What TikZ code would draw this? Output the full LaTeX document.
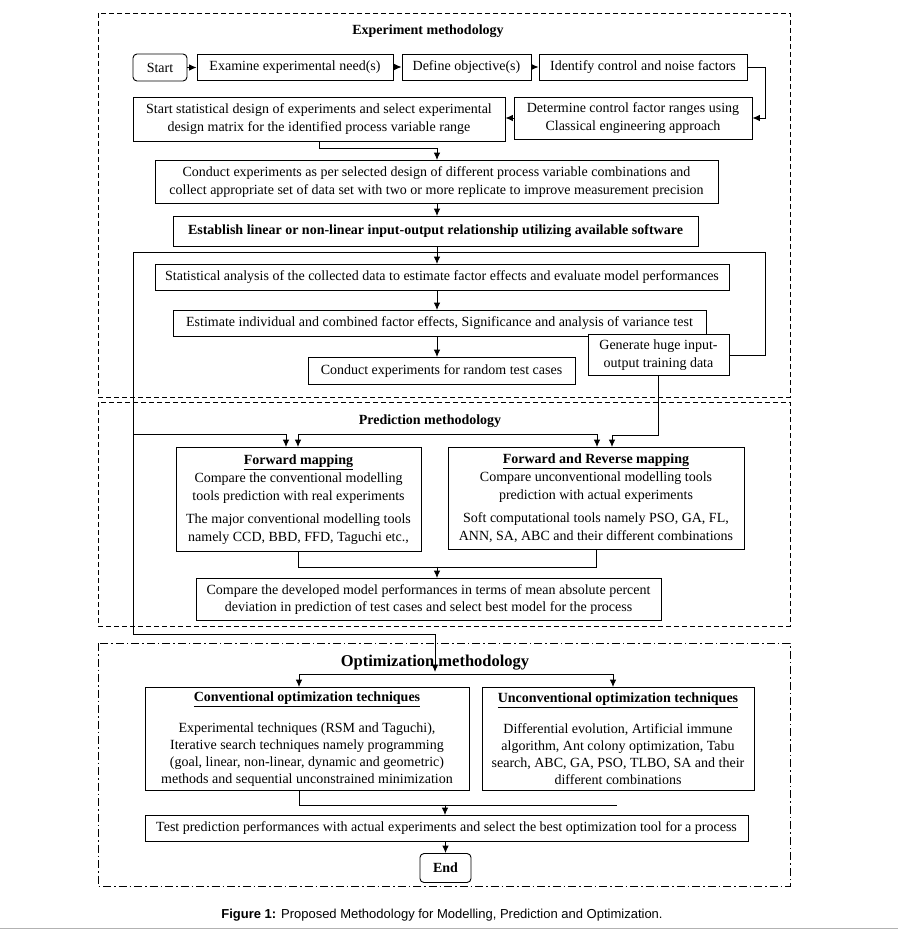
\documentclass[tikz,border=0pt]{standalone}
\usepackage{fontspec}
\setmainfont{Liberation Serif}
\newfontfamily\capfont{Liberation Sans}
\usetikzlibrary{arrows.meta}
\begin{document}
\begin{tikzpicture}[x=1pt,y=-1pt,
  box/.style={draw, line width=0.9pt, inner sep=0pt, align=center, fill=white, font=\fontsize{14}{17.5}\selectfont},
  rbox/.style={box, rounded corners=4pt},
  arr/.style={-{Latex[length=7.5pt,width=6.5pt]}, line width=0.9pt},
  arrtwo/.style={{Latex[length=7.5pt,width=6.5pt]}-{Latex[length=7.5pt,width=6.5pt]}, line width=0.9pt},
  ln/.style={line width=0.9pt},
  framea/.style={line width=0.8pt, dash pattern=on 5pt off 3pt},
  frameb/.style={line width=0.8pt, dash pattern=on 8pt off 3pt on 1.5pt off 3pt},
  ttl/.style={font=\fontsize{14}{16}\selectfont\bfseries, inner sep=0pt}
]
\useasboundingbox (0,0) rectangle (898,931);

% frames
\draw[framea] (98,13) rectangle (790,397);
\draw[framea] (98,402) rectangle (790,626);
\draw[frameb] (98,643) rectangle (790,886);

% titles
\node[ttl] (t1) at (428,31) {Experiment methodology};
\node[ttl] (t2) at (430,421) {Prediction methodology};
\node[ttl, font=\fontsize{16.5}{18}\selectfont\bfseries] (t3) at (435,663) {Optimization methodology};

% experiment section
\node[rbox, minimum width=54, minimum height=27] (start) at (160,67.5) {Start};
\node[box, minimum width=196, minimum height=26] (exam) at (295,67) {Examine experimental need(s)};
\node[box, minimum width=129, minimum height=26] (def) at (466.5,67) {Define objective(s)};
\node[box, minimum width=208, minimum height=26] (iden) at (643,67) {Identify control and noise factors};
\node[box, minimum width=238, minimum height=42] (det) at (633,118) {Determine control factor ranges using\\Classical engineering approach};
\node[box, minimum width=372, minimum height=44] (ssd) at (319,119) {Start statistical design of experiments and select experimental\\design matrix for the identified process variable range};
\node[box, minimum width=563, minimum height=43] (cond) at (436.5,182) {Conduct experiments as per selected design of different process variable combinations and\\collect appropriate set of data set with two or more replicate to improve measurement precision};
\node[box, minimum width=525, minimum height=30] (est) at (435.5,231.5) {\textbf{Establish linear or non-linear input-output relationship utilizing available software}};
\node[box, minimum width=574, minimum height=26] (stat) at (442,277.5) {Statistical analysis of the collected data to estimate factor effects and evaluate model performances};
\node[box, minimum width=533, minimum height=26] (esti) at (439.5,323.5) {Estimate individual and combined factor effects, Significance and analysis of variance test};
\node[box, minimum width=267, minimum height=27] (rand) at (441.5,371) {Conduct experiments for random test cases};
\node[box, minimum width=141, minimum height=41] (gen) at (658.5,355) {Generate huge input-\\output training data};

\coordinate (cx) at (437,0);
\coordinate (lp1) at (765,252.5);
\coordinate (lp2) at (133,252.5);
\coordinate (lp3) at (133,634);
\coordinate (opt) at (435,672);
\coordinate (br) at (133,434);

\draw[arr] (start.east) -- (start.east -| exam.west);
\draw[arr] (exam.east) -- (exam.east -| def.west);
\draw[arr] (def.east) -- (def.east -| iden.west);
\draw[arr] (iden.east) -- ++(18,0) |- (det.east);
\draw[arr] (det.west) -- (det.west -| ssd.east);
\draw[arr] (ssd.south) -- ++(0,7) -| (cond.north -| cx);
\draw[arr] (cond.south -| cx) -- (est.north -| cx);
\draw[arr] (est.south -| cx) -- (stat.north -| cx);
\draw[arr] (stat.south -| cx) -- (esti.north -| cx);
\draw[arr] (esti.south -| cx) -- (rand.north -| cx);
\node[box, minimum width=141, minimum height=41] at (gen) {Generate huge input-\\output training data};

% prediction section
\node[box, minimum width=245, minimum height=104, font=\fontsize{14}{18}\selectfont] (fwd) at (298.5,499.5) {\underline{\textbf{Forward mapping}}\\Compare the conventional modelling\\tools prediction with real experiments\\[5pt]The major conventional modelling tools\\namely CCD, BBD, FFD, Taguchi etc.,};
\node[box, minimum width=296, minimum height=102, font=\fontsize{14}{18}\selectfont] (fr) at (596,498.5) {\underline{\textbf{Forward and Reverse mapping}}\\Compare unconventional modelling tools\\prediction with actual experiments\\[5pt]Soft computational tools namely PSO, GA, FL,\\ANN, SA, ABC and their different combinations};
\node[box, minimum width=465, minimum height=42] (cmp) at (428.5,599.5) {Compare the developed model performances in terms of mean absolute percent\\deviation in prediction of test cases and select best model for the process};

\draw[arr] (gen.east) -| (lp1) -- (lp2) -- (lp3) -| (opt);
\draw[arr] (br) -| ([xshift=-12.5]fwd.north);
\draw[arrtwo] ([xshift=-0.5]fwd.north) -- ++(0,-13) -| ([xshift=1]fr.north);
\draw[arr] (gen.south) -- ++(0,59) -| ([xshift=16]fr.north);
\draw[ln] (fwd.south) -- ++(0,15) -| (fr.south);
\coordinate (m1) at (437,566.5);
\draw[arr] (m1) -- (m1 |- cmp.north);

% optimization section
\node[box, minimum width=324, minimum height=103, font=\fontsize{14}{17}\selectfont] (conv) at (307,739) {\underline{\textbf{Conventional optimization techniques}}\\[14pt]Experimental techniques (RSM and Taguchi),\\Iterative search techniques namely programming\\(goal, linear, non-linear, dynamic and geometric)\\methods and sequential unconstrained minimization};
\node[box, minimum width=272, minimum height=103, font=\fontsize{14}{17}\selectfont] (unconv) at (618,739) {\underline{\textbf{Unconventional optimization techniques}}\\[14pt]Differential evolution, Artificial immune\\algorithm, Ant colony optimization, Tabu\\search, ABC, GA, PSO, TLBO, SA and their\\different combinations};
\node[box, minimum width=603, minimum height=26] (test) at (446.5,828.5) {Test prediction performances with actual experiments and select the best optimization tool for a process};
\node[rbox, minimum width=51, minimum height=29] (end) at (445.5,868) {\textbf{End}};

\draw[arrtwo] ([xshift=-8]conv.north) -- ++(0,-13) -| ([xshift=-5]unconv.north);
\draw[ln] ([xshift=-8]conv.south) -- ++(0,14) -- ++(318,0);
\coordinate (m2) at (445,804.5);
\draw[arr] (m2) -- (m2 |- test.north);
\draw[arr] (end.north |- test.south) -- (end.north);

% caption
\node[font=\capfont\fontsize{13}{15}\selectfont, inner sep=0pt] (cap) at (442,915) {\textbf{Figure 1:} Proposed Methodology for Modelling, Prediction and Optimization.};
\draw[gray!60, line width=1.5pt] (0,928.5) -- (898,928.5);
\end{tikzpicture}
\end{document}
